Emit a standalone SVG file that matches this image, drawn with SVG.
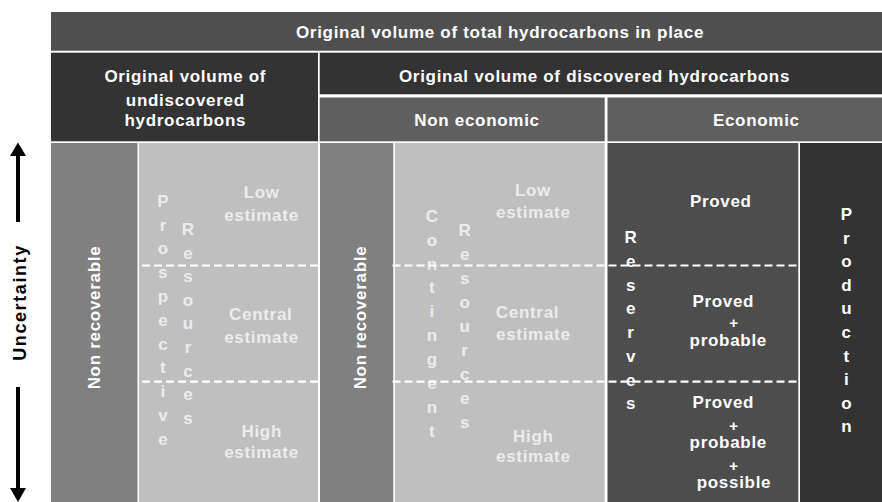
<svg xmlns="http://www.w3.org/2000/svg" width="882" height="502" viewBox="0 0 882 502">
<style>
text{font-family:"Liberation Sans",Arial,sans-serif;font-weight:bold;font-size:17px;letter-spacing:0.7px;text-anchor:middle}
.w{fill:#ffffff}
.l{fill:#ececec}
.k{fill:#000000}
.p{font-size:15px}
.dash{stroke:#ffffff;stroke-width:2.2;stroke-dasharray:8 4;fill:none}
</style>
<rect width="882" height="502" fill="#ffffff"/>
<g id="total">
<rect x="51" y="12" width="831" height="38.7" fill="#4f4f4f"/>
<text class="w" x="500" y="37.5">Original volume of total hydrocarbons in place</text>
</g>
<g id="undiscovered">
<rect x="51" y="52.7" width="267" height="88.6" fill="#333333"/>
<text class="w" x="185.3" y="81.5">Original volume of</text>
<text class="w" x="185.3" y="105.5">undiscovered</text>
<text class="w" x="185.3" y="125.5">hydrocarbons</text>
</g>
<g id="discovered">
<rect x="319.7" y="52.7" width="562.3" height="41.6" fill="#333333"/>
<text class="w" x="594.5" y="81.5">Original volume of discovered hydrocarbons</text>
</g>
<g id="noneconomic">
<rect x="319.7" y="97.5" width="285" height="43.8" fill="#5f5f5f"/>
<text class="w" x="477" y="125.8">Non economic</text>
</g>
<g id="economic">
<rect x="607.5" y="97.5" width="274.5" height="43.8" fill="#5f5f5f"/>
<text class="w" x="756.3" y="125.8">Economic</text>
</g>
<g id="nonrecoverable1">
<rect x="51" y="143" width="86.5" height="359" fill="#808080"/>
<text class="w" transform="translate(99.5,317.5) rotate(-90)">Non recoverable</text>
</g>
<g id="prospective">
<rect x="139" y="143" width="179" height="359" fill="#bfbfbf"/>
<text class="l"><tspan x="163.3" y="206.7">P</tspan><tspan x="163.3" dy="23.8">r</tspan><tspan x="163.3" dy="23.8">o</tspan><tspan x="163.3" dy="23.8">s</tspan><tspan x="163.3" dy="23.8">p</tspan><tspan x="163.3" dy="23.8">e</tspan><tspan x="163.3" dy="23.8">c</tspan><tspan x="163.3" dy="23.8">t</tspan><tspan x="163.3" dy="23.8">i</tspan><tspan x="163.3" dy="23.8">v</tspan><tspan x="163.3" dy="23.8">e</tspan></text>
<text class="l"><tspan x="188.3" y="235">R</tspan><tspan x="188.3" dy="23.6">e</tspan><tspan x="188.3" dy="23.6">s</tspan><tspan x="188.3" dy="23.6">o</tspan><tspan x="188.3" dy="23.6">u</tspan><tspan x="188.3" dy="23.6">r</tspan><tspan x="188.3" dy="23.6">c</tspan><tspan x="188.3" dy="23.6">e</tspan><tspan x="188.3" dy="23.6">s</tspan></text>
<text class="l" x="261.7" y="198.3">Low</text>
<text class="l" x="261.5" y="221">estimate</text>
<text class="l" x="260.8" y="320">Central</text>
<text class="l" x="261.5" y="343.3">estimate</text>
<text class="l" x="261.7" y="436.7">High</text>
<text class="l" x="261.5" y="458.3">estimate</text>
</g>
<g id="nonrecoverable2">
<rect x="320" y="143" width="73.3" height="359" fill="#808080"/>
<text class="w" transform="translate(366,317.5) rotate(-90)">Non recoverable</text>
</g>
<g id="contingent">
<rect x="395" y="143" width="209.7" height="359" fill="#bfbfbf"/>
<text class="l"><tspan x="432.3" y="221.7">C</tspan><tspan x="432.3" dy="23.9">o</tspan><tspan x="432.3" dy="23.9">n</tspan><tspan x="432.3" dy="23.9">t</tspan><tspan x="432.3" dy="23.9">i</tspan><tspan x="432.3" dy="23.9">n</tspan><tspan x="432.3" dy="23.9">g</tspan><tspan x="432.3" dy="23.9">e</tspan><tspan x="432.3" dy="23.9">n</tspan><tspan x="432.3" dy="23.9">t</tspan></text>
<text class="l"><tspan x="465" y="236">R</tspan><tspan x="465" dy="24">e</tspan><tspan x="465" dy="24">s</tspan><tspan x="465" dy="24">o</tspan><tspan x="465" dy="24">u</tspan><tspan x="465" dy="24">r</tspan><tspan x="465" dy="24">c</tspan><tspan x="465" dy="24">e</tspan><tspan x="465" dy="24">s</tspan></text>
<text class="l" x="533" y="196">Low</text>
<text class="l" x="533.3" y="218.3">estimate</text>
<text class="l" x="527.5" y="318.3">Central</text>
<text class="l" x="533.3" y="340">estimate</text>
<text class="l" x="533.3" y="441.7">High</text>
<text class="l" x="533.3" y="461.7">estimate</text>
</g>
<g id="reserves">
<rect x="607.5" y="143" width="190.8" height="359" fill="#4d4d4d"/>
<text class="w"><tspan x="631" y="243.3">R</tspan><tspan x="631" dy="23.7">e</tspan><tspan x="631" dy="23.7">s</tspan><tspan x="631" dy="23.7">e</tspan><tspan x="631" dy="23.7">r</tspan><tspan x="631" dy="23.7">v</tspan><tspan x="631" dy="23.7">e</tspan><tspan x="631" dy="23.7">s</tspan></text>
<text class="w" x="720.8" y="206.7">Proved</text>
<text class="w" x="723.3" y="307.3">Proved</text>
<text class="w p" x="734" y="328">+</text>
<text class="w" x="728.3" y="345.5">probable</text>
<text class="w" x="723.3" y="407.7">Proved</text>
<text class="w p" x="734" y="431">+</text>
<text class="w" x="728.3" y="448.3">probable</text>
<text class="w p" x="734" y="471">+</text>
<text class="w" x="734" y="488.3">possible</text>
</g>
<g id="production">
<rect x="800" y="143" width="82" height="359" fill="#333333"/>
<text class="w"><tspan x="846.7" y="220">P</tspan><tspan x="846.7" dy="23.6">r</tspan><tspan x="846.7" dy="23.6">o</tspan><tspan x="846.7" dy="23.6">d</tspan><tspan x="846.7" dy="23.6">u</tspan><tspan x="846.7" dy="23.6">c</tspan><tspan x="846.7" dy="23.6">t</tspan><tspan x="846.7" dy="23.6">i</tspan><tspan x="846.7" dy="23.6">o</tspan><tspan x="846.7" dy="23.6">n</tspan></text>
</g>
<g id="dividers">
<line class="dash" x1="142" y1="265.5" x2="318" y2="265.5"/>
<line class="dash" x1="142" y1="381.7" x2="318" y2="381.7"/>
<line class="dash" x1="392.5" y1="265.5" x2="800" y2="265.5"/>
<line class="dash" x1="392.5" y1="381.7" x2="800" y2="381.7"/>
</g>
<g id="uncertainty">
<text class="k" style="font-size:18px;letter-spacing:1.6px" transform="translate(26,302.5) rotate(-90)">Uncertainty</text>
</g>
<g id="connectors">
<line x1="18" y1="155" x2="18" y2="222" stroke="#000" stroke-width="4"/>
<polygon points="10,156 26,156 18,142.5" fill="#000"/>
<line x1="18" y1="387" x2="18" y2="489" stroke="#000" stroke-width="4"/>
<polygon points="10,488 26,488 18,502" fill="#000"/>
</g>
</svg>
